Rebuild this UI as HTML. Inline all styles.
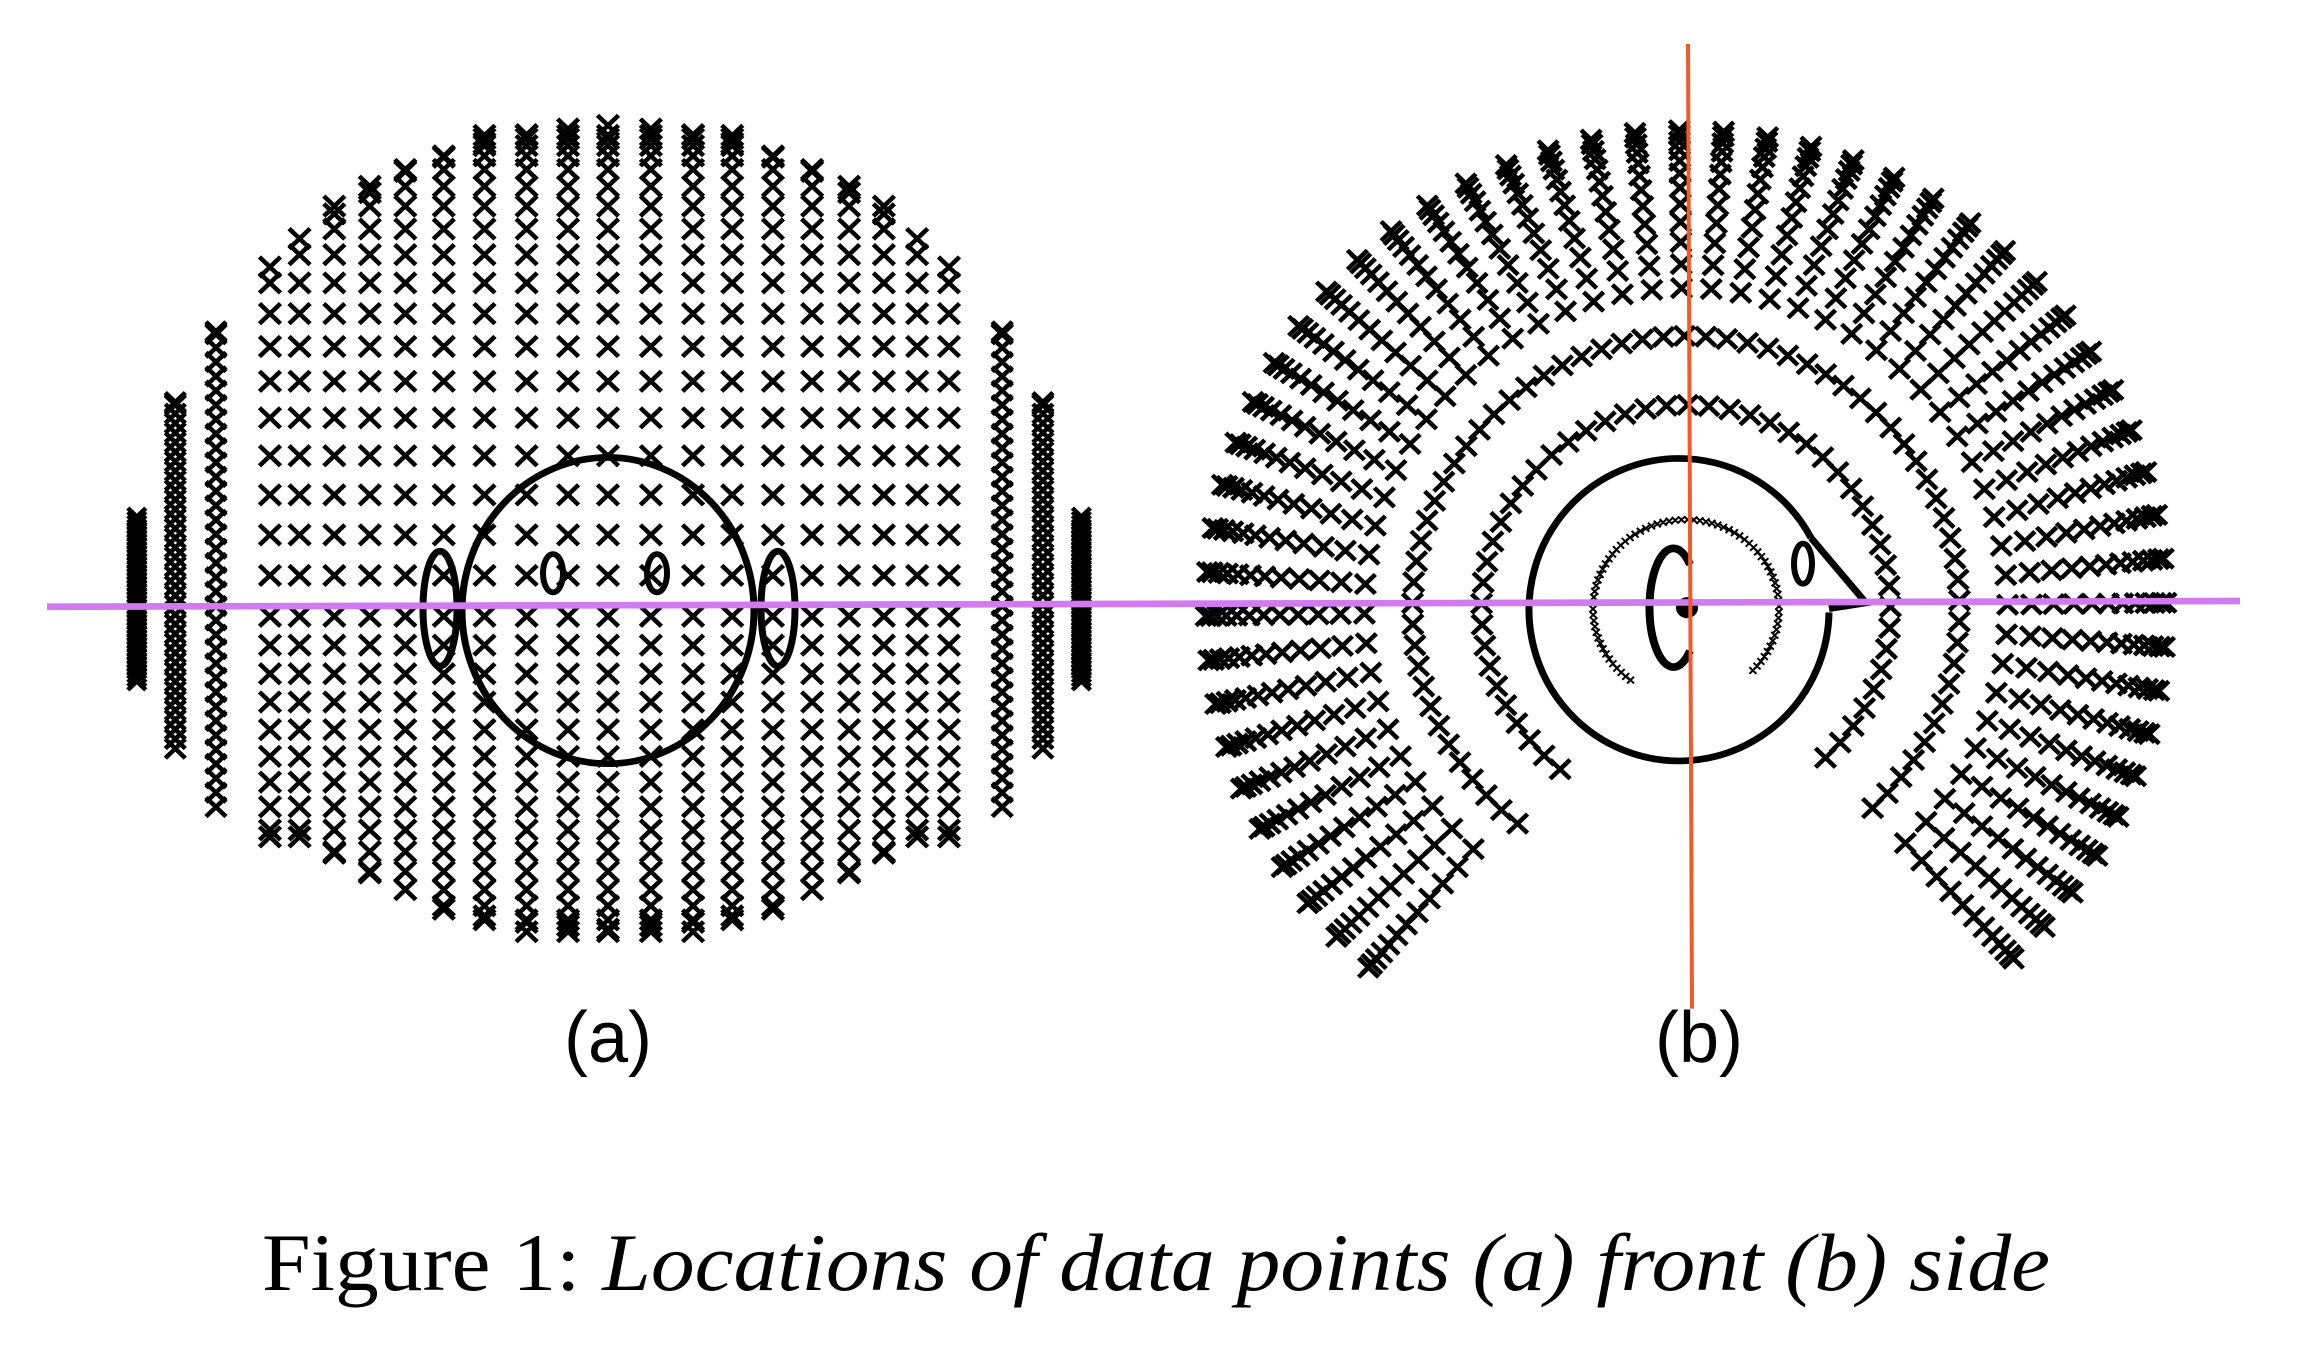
<!DOCTYPE html>
<html><head><meta charset="utf-8"><style>
html,body{margin:0;padding:0;background:#fff;}
svg{display:block;}
</style></head><body>
<svg id="s" xmlns="http://www.w3.org/2000/svg" width="2314" height="1364" viewBox="0 0 2314 1364">
<rect width="2314" height="1364" fill="#fff"/>
<g transform="scale(1,0.957)">
<g id="marks" stroke="#000" stroke-width="4.6" fill="none"></g>
<g id="small" stroke="#000" stroke-width="2" fill="none"></g>
<g stroke="#000" stroke-width="7" fill="none">
  <ellipse cx="608" cy="638" rx="146" ry="160" fill="none"/>
  <ellipse cx="440" cy="636" rx="17" ry="60"/>
  <ellipse cx="778" cy="636" rx="17" ry="60"/>
  <ellipse cx="553" cy="599" rx="10" ry="20" stroke-width="6"/>
  <ellipse cx="657" cy="599" rx="10" ry="20" stroke-width="6"/>
  <path d="M1811,562 A150,158 0 1 0 1829,640"/>
  <path d="M1811,562 L1866,630 L1829,636"/>
  <ellipse cx="1803" cy="589" rx="9" ry="21" stroke-width="6"/>
  <path d="M1690,590 A24,62 0 1 0 1690,680" stroke-width="8"/>
</g>
<circle cx="1687" cy="635" r="11" fill="#000"/>
<line x1="47" y1="634" x2="2240" y2="628" stroke="#d27af0" stroke-width="7"/>
<line x1="1688" y1="46" x2="1692" y2="1054" stroke="#f25a2a" stroke-width="4"/>
</g>
<text x="608" y="1062" font-family="Liberation Sans, sans-serif" font-size="72" text-anchor="middle">(a)</text>
<text x="1699" y="1062" font-family="Liberation Sans, sans-serif" font-size="72" text-anchor="middle">(b)</text>
<text x="262" y="1290" font-family="Liberation Serif, serif" font-size="82" textLength="1788" lengthAdjust="spacingAndGlyphs">Figure 1: <tspan font-style="italic">Locations of data points (a) front (b) side</tspan></text>
</svg>
<script>
var g=document.getElementById('marks'),sg=document.getElementById('small');
var d='';
function X(x,y,h){d+='M'+(x-h)+','+(y-h)+'L'+(x+h)+','+(y+h)+'M'+(x-h)+','+(y+h)+'L'+(x+h)+','+(y-h);}
var cols=[[185,730,965],[237,560,1080],[292,460,1155],[365,365,1220],[405,325,1220],[452,290,1245],[500,260,1275],[548,230,1300],[600,210,1330],[655,190,1340],[712,178,1350],[768,170,1355],[822,165,1360],[880,170,1355],[937,178,1350],[990,190,1340],[1045,210,1330],[1098,230,1300],[1148,260,1275],[1195,290,1245],[1240,325,1220],[1283,365,1220],[1355,460,1155],[1410,560,1080],[1462,730,965]];
var k=1.352, cy=632;
cols.forEach(function(c,i){
  var x=c[0]/k, top=c[1]/k, bot=c[2]/k;
  var edge=Math.min(i,cols.length-1-i);
  if(edge>=3) bot=cy+(bot-cy)*0.93;
  if(edge===0){for(var y=top;y<=bot;y+=4)X(x,y,9);return;}
  if(edge<=2){var sp=edge===1?10:15;for(var y=top+8;y<=bot-8;y+=sp)X(x,y,10);X(x,top+6,10);X(x,top+9,10);return;}
  var step=0.085;
  var ys=[];
  for(var p=0;p<1.6;p+=step){var y=cy+12-503*Math.sin(p); if(y>=top-1)ys.push(y); else break;}
  for(var p=step;p<1.6;p+=step){var y=cy+12+355*Math.sin(p); if(y<=bot+1)ys.push(y); else break;}
  ys.push(top+9);ys.push(bot-9);
  ys.forEach(function(y){X(x,y,10.5);});
});
var cx=1686, cyr=636, fx=0.96;
function P(r,a){var t=a*Math.PI/180;return [cx+fx*r*Math.cos(t),cyr-r*Math.sin(t)];}
var rs=[335,360,383,404,423,440,455,468,479,488,495,500];
for(var a=-47;a<=233;a+=5.3){
  rs.forEach(function(r){var p=P(r,a);X(p[0],p[1],10);});
}
[[213,22],[285,22]].forEach(function(q){
  var r=q[0],n=Math.round(r*(279*Math.PI/180)/q[1]);
  for(var i=0;i<=n;i++){var a=-47+279*i/n;var p=P(r,a);X(p[0],p[1],10);}
});
var path=document.createElementNS('http://www.w3.org/2000/svg','path');path.setAttribute('d',d);g.appendChild(path);
var d2='';
for(var a=-44;a<=234;a+=3.8){var t=a*Math.PI/180;var x=cx+93*Math.cos(t),y=cyr-93*Math.sin(t);d2+='M'+(x-3.5)+','+(y-3.5)+'L'+(x+3.5)+','+(y+3.5)+'M'+(x-3.5)+','+(y+3.5)+'L'+(x+3.5)+','+(y-3.5);}
var p2=document.createElementNS('http://www.w3.org/2000/svg','path');p2.setAttribute('d',d2);sg.appendChild(p2);
</script>
</body></html>
